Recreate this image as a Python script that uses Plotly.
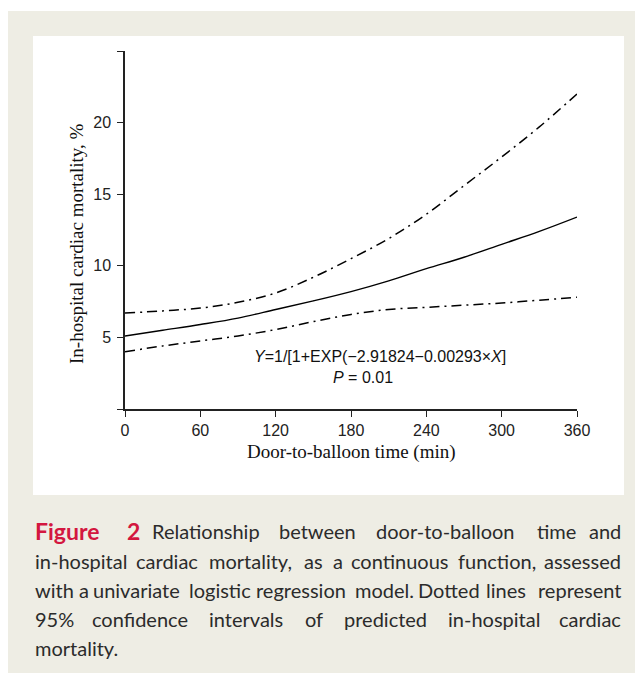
import plotly.graph_objects as go

# ---------------- data ----------------
door_to_balloon_min = [0, 30, 60, 90, 120, 150, 180, 210, 240, 270, 300, 330, 360]
mortality_pred = [5.1, 5.5, 5.9, 6.35, 6.95, 7.55, 8.2, 8.95, 9.8, 10.6, 11.5, 12.4, 13.4]
mortality_upper = [6.7, 6.85, 7.05, 7.45, 8.1, 9.2, 10.5, 11.9, 13.6, 15.6, 17.6, 19.7, 22.0]
mortality_lower = [4.0, 4.4, 4.75, 5.1, 5.55, 6.1, 6.6, 6.95, 7.1, 7.25, 7.4, 7.6, 7.8]
x_ticks = [0, 60, 120, 180, 240, 300, 360]
y_ticks = [0, 5, 10, 15, 20, 25]
y_ticktext = ["", "5", "10", "15", "20", ""]

W, H = 635, 673
L, R, T, B = 125, 58, 51, 264
PW, PH = W - L - R, H - T - B


def px(x):
    return (x - L) / PW


def py(y):
    return (T + PH - y) / PH


BEIGE = "#eeede4"
TXT = "#2b2b2b"
RED = "#d3173f"

fig = go.Figure()
dash = "10px,5px,2px,5px"
fig.add_trace(go.Scatter(x=door_to_balloon_min, y=mortality_upper, mode="lines",
                         line=dict(color="black", width=1.5, dash=dash, shape="spline"),
                         showlegend=False, hoverinfo="skip"))
fig.add_trace(go.Scatter(x=door_to_balloon_min, y=mortality_pred, mode="lines",
                         line=dict(color="black", width=1.4, shape="spline"),
                         showlegend=False, hoverinfo="skip"))
fig.add_trace(go.Scatter(x=door_to_balloon_min, y=mortality_lower, mode="lines",
                         line=dict(color="black", width=1.5, dash=dash, shape="spline"),
                         showlegend=False, hoverinfo="skip"))

shapes = [
    dict(type="rect", xref="paper", yref="paper", x0=px(8), x1=px(640), y0=py(11), y1=py(680),
         fillcolor=BEIGE, line=dict(width=0), layer="below"),
    dict(type="rect", xref="paper", yref="paper", x0=px(33), x1=px(624), y0=py(36), y1=py(495),
         fillcolor="white", line=dict(width=0), layer="below"),
]

ann = []
ann.append(dict(text="<i>Y</i>=1/[1+EXP(−2.91824−0.00293×<i>X</i>]", x=px(380), y=py(356),
                xref="paper", yref="paper", showarrow=False, xanchor="center", yanchor="middle",
                font=dict(family="Liberation Sans, Arial", size=16, color="#111")))
ann.append(dict(text="<i>P</i> = 0.01", x=px(363), y=py(377),
                xref="paper", yref="paper", showarrow=False, xanchor="center", yanchor="middle",
                font=dict(family="Liberation Sans, Arial", size=16, color="#111")))
ann.append(dict(text="Door-to-balloon time (min)", x=px(351), y=py(452),
                xref="paper", yref="paper", showarrow=False, xanchor="center", yanchor="middle",
                font=dict(family="Liberation Serif, Times New Roman", size=19, color="#111")))
ann.append(dict(text="In-hospital cardiac mortality, %", x=px(76), y=py(244), textangle=-90,
                xref="paper", yref="paper", showarrow=False, xanchor="center", yanchor="middle",
                font=dict(family="Liberation Serif, Times New Roman", size=19, color="#111")))

# caption, word by word to mimic justified text: (word, anchor, x, highlighted)
cap_lines = [
    (531, [("Figure", "left", 33, True), ("2", "center", 133, True), ("Relationship", "center", 206, False),
           ("between", "center", 317, False), ("door-to-balloon", "center", 445, False),
           ("time", "center", 556, False), ("and", "right", 623, False)]),
    (561, [("in-hospital", "left", 33, False), ("cardiac", "center", 167, False),
           ("mortality,", "center", 250, False), ("as", "center", 313, False), ("a", "center", 338, False),
           ("continuous", "center", 400, False), ("function,", "center", 497, False),
           ("assessed", "right", 623, False)]),
    (590, [("with", "left", 33, False), ("a", "center", 84, False), ("univariate", "center", 136, False),
           ("logistic", "center", 220, False), ("regression", "center", 301, False),
           ("model.", "center", 384, False), ("Dotted", "center", 449, False),
           ("lines", "center", 506, False), ("represent", "right", 623, False)]),
    (619, [("95%", "left", 33, False), ("confidence", "center", 140, False),
           ("intervals", "center", 246, False), ("of", "center", 314, False),
           ("predicted", "center", 385, False), ("in-hospital", "center", 494, False),
           ("cardiac", "right", 623, False)]),
    (648, [("mortality.", "left", 33, False)]),
]
for yline, words in cap_lines:
    for w, anc, xx, red in words:
        txt = f"<b>{w}</b>" if red else w
        ann.append(dict(text=txt, x=px(xx), y=py(yline), xref="paper", yref="paper",
                        showarrow=False, xanchor=anc, yanchor="middle",
                        font=dict(family="Lato, Noto Sans, sans-serif", size=23 if red else 20,
                                  color=RED if red else TXT)))

axis_common = dict(showline=True, linecolor="#222", linewidth=1.5, ticks="outside",
                   ticklen=6, tickwidth=1.4, tickcolor="#222", showgrid=False, zeroline=False,
                   tickfont=dict(family="Liberation Sans, Arial", size=16, color="#222"))

fig.update_layout(
    width=W, height=H,
    margin=dict(l=L, r=R, t=T, b=B, pad=0),
    paper_bgcolor="white", plot_bgcolor="rgba(0,0,0,0)",
    xaxis=dict(range=[0, 360], tickvals=x_ticks, **axis_common),
    yaxis=dict(range=[0, 25], tickvals=y_ticks, ticktext=y_ticktext, ticklabelstandoff=3,
               **axis_common),
    shapes=shapes, annotations=ann, showlegend=False,
)

fig.write_html("out.html", config={"displayModeBar": False},
               post_script="document.body.style.margin='0';")
